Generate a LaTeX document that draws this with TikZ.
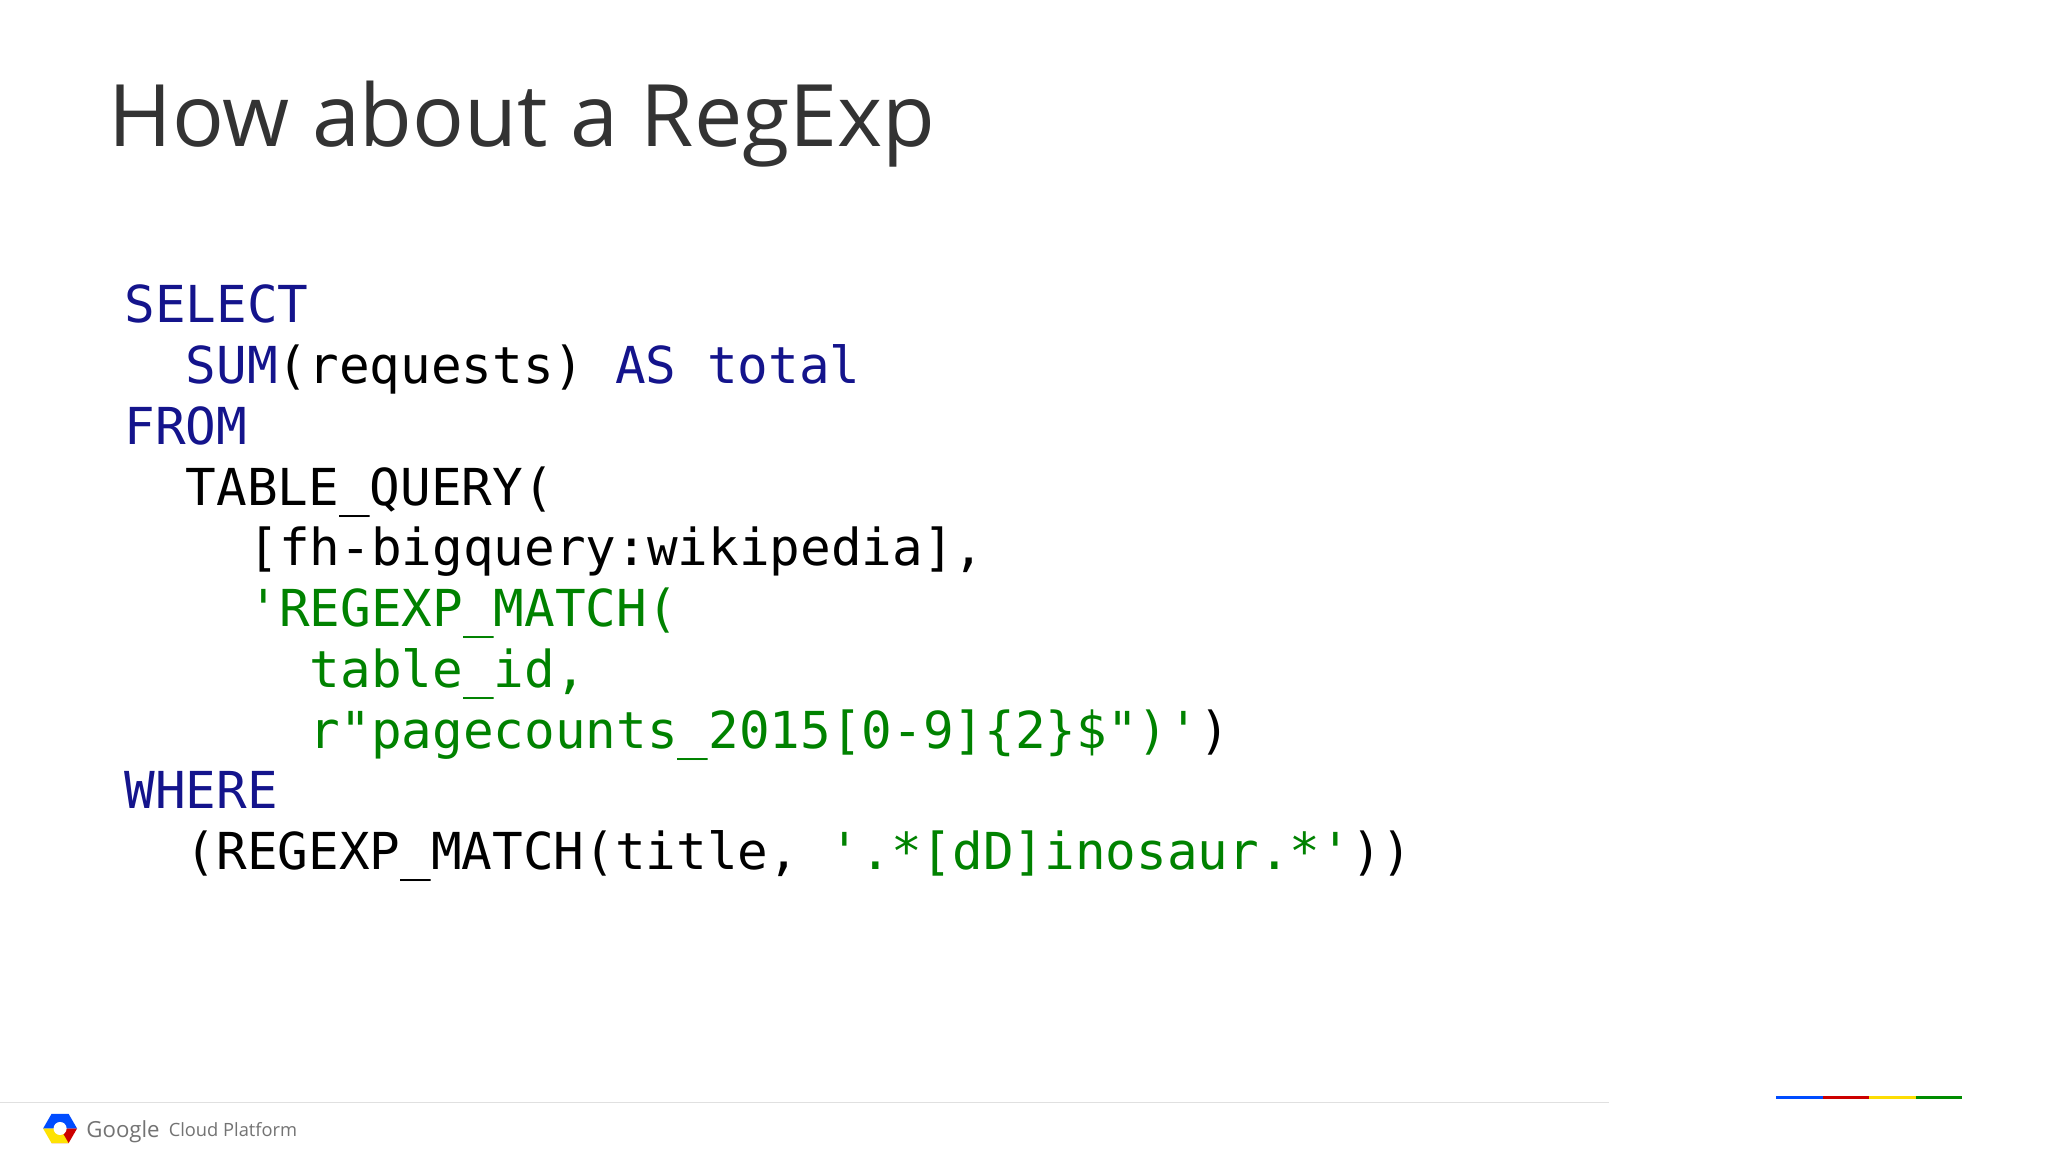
\documentclass[tikz,border=0pt]{standalone}
\usepackage{fontspec}
\setmainfont{Open Sans}
\newfontfamily\codefont{DejaVu Sans Mono}
\definecolor{kw}{RGB}{20,20,140}
\definecolor{st}{RGB}{0,130,0}
\definecolor{tt}{RGB}{51,51,51}
\begin{document}
\begin{tikzpicture}[x=1pt,y=-1pt,
  codeline/.style={anchor=base west,inner sep=0pt,font=\codefont\fontsize{39}{40}\selectfont}]
\useasboundingbox[fill=white] (0,0) rectangle (1568,882);
\node[anchor=base west,inner sep=0pt,text=tt,font=\fontsize{66}{72}\selectfont] (title) at (83,112) {How about a RegExp};
\node[codeline,text=kw] (l1) at (95,247) {SELECT};
\node[codeline] (l2) at (142,294) {\textcolor{kw}{SUM}(requests) \textcolor{kw}{AS total}};
\node[codeline,text=kw] (l3) at (95,340) {FROM};
\node[codeline] (l4) at (142,387) {TABLE\_QUERY(};
\node[codeline] (l5) at (190,433) {[fh-bigquery:wikipedia],};
\node[codeline,text=st] (l6) at (190,480) {'REGEXP\_MATCH(};
\node[codeline,text=st] (l7) at (237,526) {table\_id,};
\node[codeline] (l8) at (237,573) {\textcolor{st}{r"pagecounts\_2015[0-9]\{2\}\$")'})};
\node[codeline,text=kw] (l9) at (95,619) {WHERE};
\node[codeline] (l10) at (142,666) {(REGEXP\_MATCH(title, \textcolor{st}{'.*[dD]inosaur.*'}))};
% footer
\draw[black!12,line width=1pt] (0,844) -- (1232,844);
\draw[line width=2.5pt,blue!70!cyan] (1360,840) -- (1396,840);
\draw[line width=2.5pt,red!80!black] (1396,840) -- (1431,840);
\draw[line width=2.5pt,yellow!80!orange] (1431,840) -- (1467,840);
\draw[line width=2.5pt,green!55!black] (1467,840) -- (1502,840);
\fill[red!80!black] (46,864) -- ++(0:13) -- ++(120:13) -- ++(180:13) -- cycle;
\fill[yellow!85!orange] (46,864) -- ++(180:13) -- ++(60:13) -- ++(0:13) -- cycle;
\fill[blue!70!cyan] (46,864) -- ++(0:13) -- ++(240:13) -- ++(180:13) -- ++(120:13) -- cycle;
\fill[white] (46,864) circle (5);
\node[anchor=base west,inner sep=0pt,text=black!55,font=\fontsize{17}{20}\selectfont] (g) at (66,871) {Google};
\node[anchor=base west,inner sep=0pt,text=black!55,font=\fontsize{14}{16}\selectfont] (cp) at (129,870) {Cloud Platform};
\end{tikzpicture}
\end{document}
